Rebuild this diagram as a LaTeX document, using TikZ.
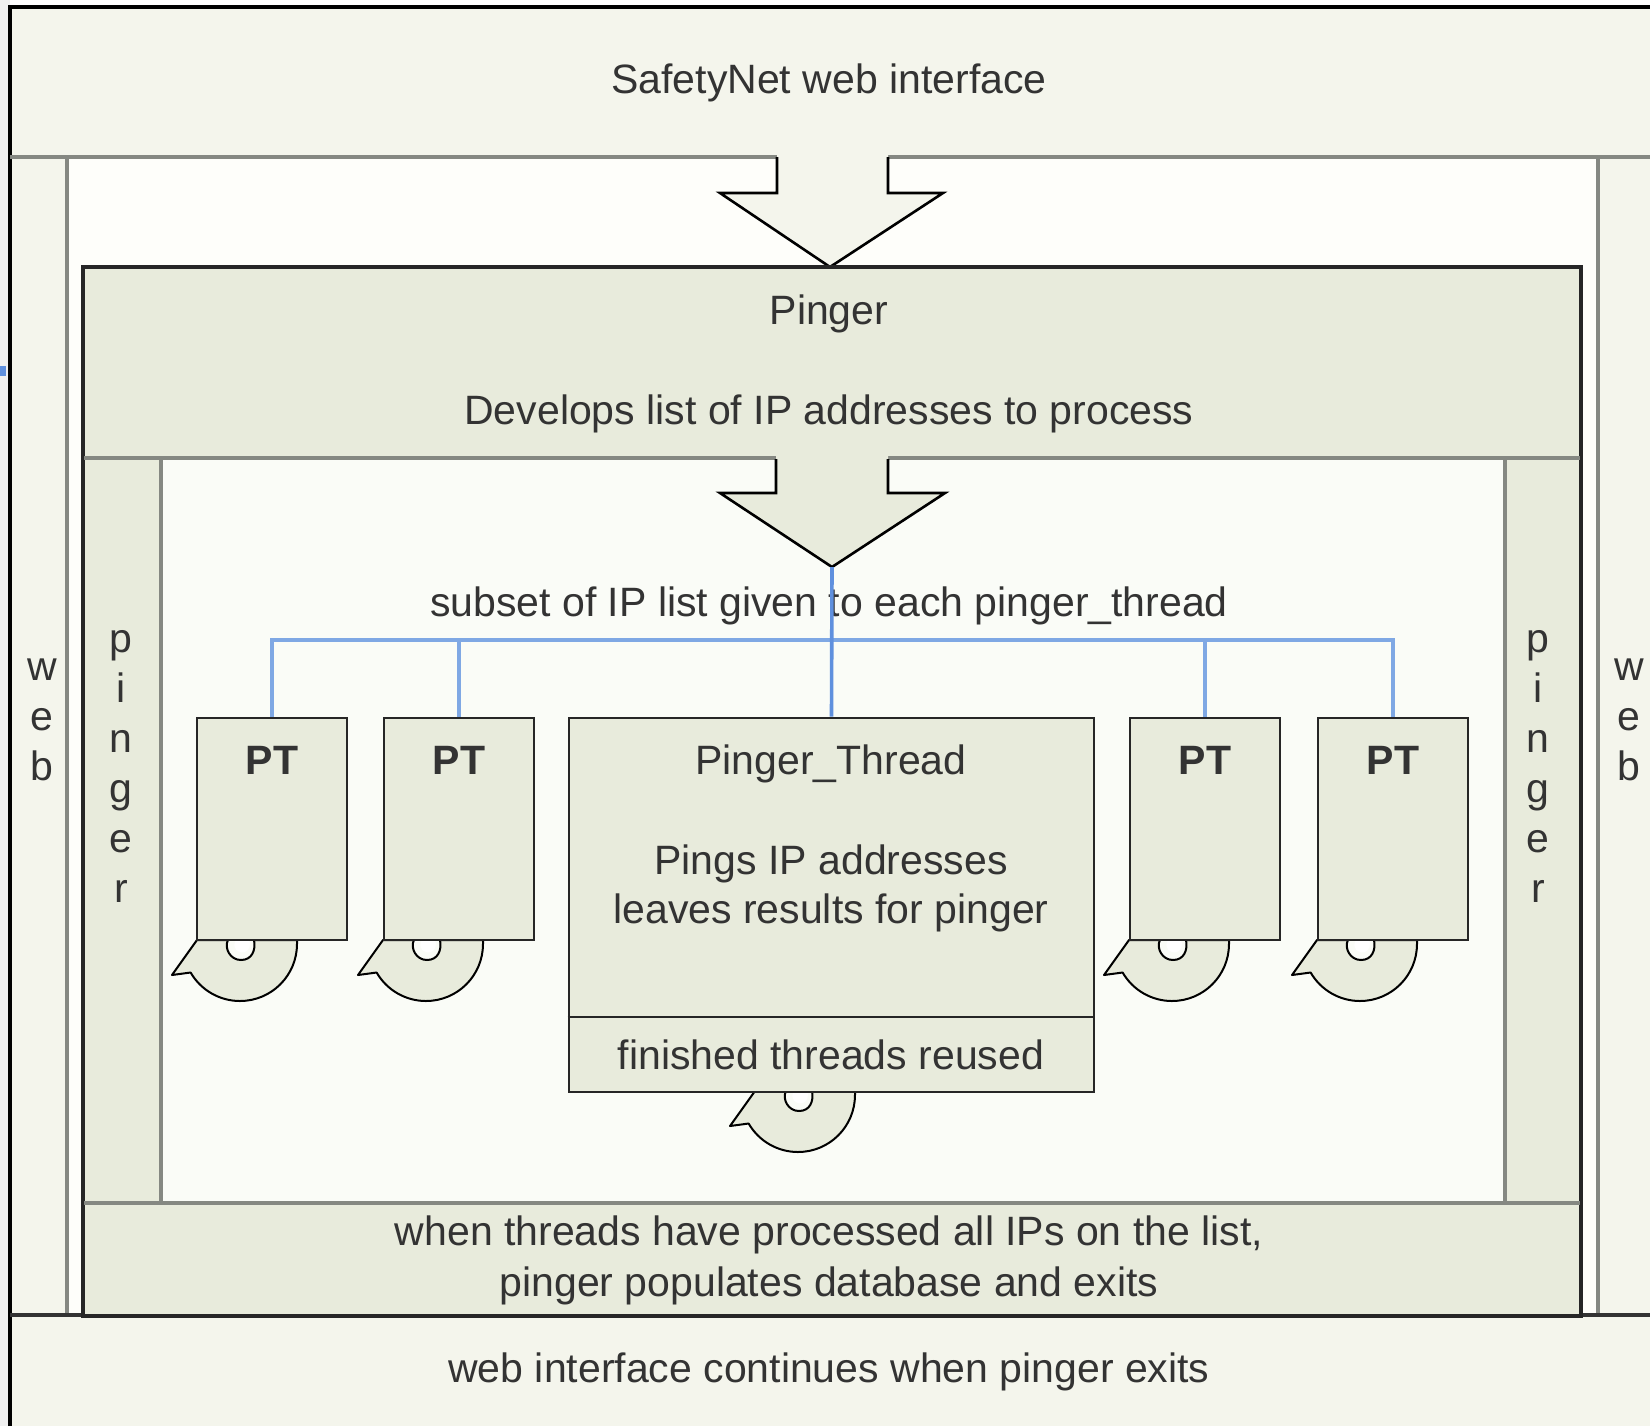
\documentclass[tikz,border=0pt]{standalone}
\usepackage{fontspec}
\setmainfont{Liberation Sans}
\definecolor{band}{HTML}{F4F5EC}
\definecolor{paper}{HTML}{FEFEFA}
\definecolor{pfill}{HTML}{E8EBDC}
\definecolor{innerc}{HTML}{FAFCF7}
\definecolor{gline}{HTML}{858882}
\definecolor{bline}{HTML}{7FA8E4}
\definecolor{bdark}{HTML}{5F90DE}
\definecolor{ink}{HTML}{333333}
\definecolor{margin}{HTML}{F0F0F0}
\begin{document}
\begin{tikzpicture}[x=0.5pt,y=-0.5pt,
  base/.style={text=ink, font=\fontsize{20.5}{25}\selectfont, inner sep=0pt},
  txt/.style={base, yshift=-2pt},
  bold/.style={base, font=\fontsize{20.5}{25}\selectfont\bfseries},
  dark/.style={draw=black!85, line width=1.4pt},
  grayline/.style={draw=gline, line width=2pt},
  ptbox/.style={dark, fill=pfill, minimum width=75pt, minimum height=111pt, inner sep=0pt},
  bigarrow/.style={draw=black, line width=1.3pt, line join=miter},
  busline/.style={draw=bline, line width=1.6pt},
  loopshape/.style={draw=black, fill=pfill, line width=1pt, line join=round},
  letter/.style={base, anchor=base}
]
\useasboundingbox (0,0) rectangle (1650,1426);
\fill[white] (0,0) rectangle (1650,1426);
\fill[margin] (0,0) rectangle (10,1426);
\fill[bdark] (0,366) rectangle (6,376);

% outer frame: web interface
\fill[band] (10,7) rectangle (1650,1426);
\draw[black, line width=1.6pt] (10,1426) -- (10,7) -- (1650,7);
\node[txt] (web) at (829,79) {SafetyNet web interface};

% middle area inside web
\fill[paper] (67,157) rectangle (1598,1315);
\draw[grayline] (10,157) -- (1650,157);
\draw[grayline] (67,157) -- (67,1315);
\draw[grayline] (1598,157) -- (1598,1315);
\draw[black!80, line width=1.6pt] (10,1315) -- (1650,1315);
\node[txt] (webend) at (829,1368) {web interface continues when pinger exits};

% vertical "web" labels
\foreach \c [count=\i from 0] in {w,e,b}{
  \node[letter] at (42,680+50*\i) {\c};
  \node[letter] at (1629,680+50*\i) {\c};
}

% arrow from web interface into pinger
\fill[band] (777,155) -- (777,193) -- (720,193) -- (830,267) -- (943,193) -- (888,193) -- (888,155) -- cycle;
\draw[bigarrow] (777,157) -- (777,193) -- (720,193) -- (830,267) -- (943,193) -- (888,193) -- (888,157);

% pinger box
\node[dark, fill=pfill, minimum width=748pt, minimum height=523.5pt, inner sep=0pt] (pinger) at (832,791.5) {};
\fill[innerc] (161,458) rectangle (1505,1203);
\draw[grayline] (84,458) -- (1580,458);
\draw[grayline] (161,458) -- (161,1203);
\draw[grayline] (1505,458) -- (1505,1203);
\draw[grayline] (84,1203) -- (1580,1203);
\draw[dark] (pinger.north west) rectangle (pinger.south east);
\node[txt] (ptitle) at (829,310) {Pinger};
\node[txt] (pdesc) at (829,410) {Develops list of IP addresses to process};
\node[txt, align=center, font=\fontsize{20.5}{25.5}\selectfont] (pend) at (829,1256)
  {when threads have processed all IPs on the list,\\pinger populates database and exits};

% vertical "pinger" labels
\foreach \c [count=\i from 0] in {p,i,n,g,e,r}{
  \node[letter] at (121,652+50*\i) {\c};
  \node[letter] at (1538,652+50*\i) {\c};
}

% arrow from pinger header to threads
\fill[pfill] (776,456) -- (776,493) -- (720,493) -- (832,567) -- (945,493) -- (888,493) -- (888,456) -- cycle;
\draw[bigarrow] (776,459) -- (776,493) -- (720,493) -- (832,567) -- (945,493) -- (888,493) -- (888,459);
\coordinate (tip) at (832,567);

\node[txt] (subset) at (829,602) {subset of IP list given to each pinger\_thread};

% reuse loops (drawn below the boxes)
\foreach \cx/\cy in {240/944, 426/944, 1172/944, 1360/944, 798/1095}{
  \draw[loopshape] (\cx+57,\cy-4) -- (\cx+57,\cy)
    arc[start angle=0, end angle=150, radius=57]
    -- (\cx-68,\cy+31) -- (\cx-43,\cy-4) -- (\cx-12,\cy-4)
    .. controls (\cx-16,\cy+4) and (\cx-10,\cy+16) .. (\cx+1,\cy+16)
    .. controls (\cx+12,\cy+16) and (\cx+16,\cy+6) .. (\cx+14,\cy-4) -- cycle;
  \fill[white] (\cx-4,\cy-4) .. controls (\cx-9,\cy+4) and (\cx-2,\cy+10) .. (\cx+5,\cy+8)
    .. controls (\cx+10,\cy+6) and (\cx+11,\cy) .. (\cx+9,\cy-4) -- cycle;
}

% thread boxes
\node[ptbox] (pt1) at (272,829) {};
\node[ptbox] (pt2) at (459,829) {};
\node[ptbox] (pt3) at (1205,829) {};
\node[ptbox] (pt4) at (1393,829) {};
\node[dark, fill=pfill, minimum width=262.5pt, minimum height=187pt, inner sep=0pt] (pth) at (831.5,905) {};
\draw[dark] (pth.west |- 0,1017) -- (pth.east |- 0,1017);

\foreach \n/\x in {pt1/272, pt2/459, pt3/1205, pt4/1393}{
  \node[bold] at (\x,760) {PT};
}
\node[txt] (pthtitle) at (831,760) {Pinger\_Thread};
\node[txt, align=center, font=\fontsize{20.5}{24.5}\selectfont] (pthdesc) at (831,884)
  {Pings IP addresses\\leaves results for pinger};
\node[txt] (reused) at (831,1051) {finished threads reused};

% distribution bus
\coordinate (bus) at (832,640);
\draw[busline] (pt1.north) -- (pt1.north |- bus) -- (pt4.north |- bus) -- (pt4.north);
\draw[busline] (pt2.north) -- (pt2.north |- bus);
\draw[busline] (pt3.north) -- (pt3.north |- bus);
\draw[draw=bdark, line width=1.8pt] (tip) -- (pth.north);
\end{tikzpicture}
\end{document}
